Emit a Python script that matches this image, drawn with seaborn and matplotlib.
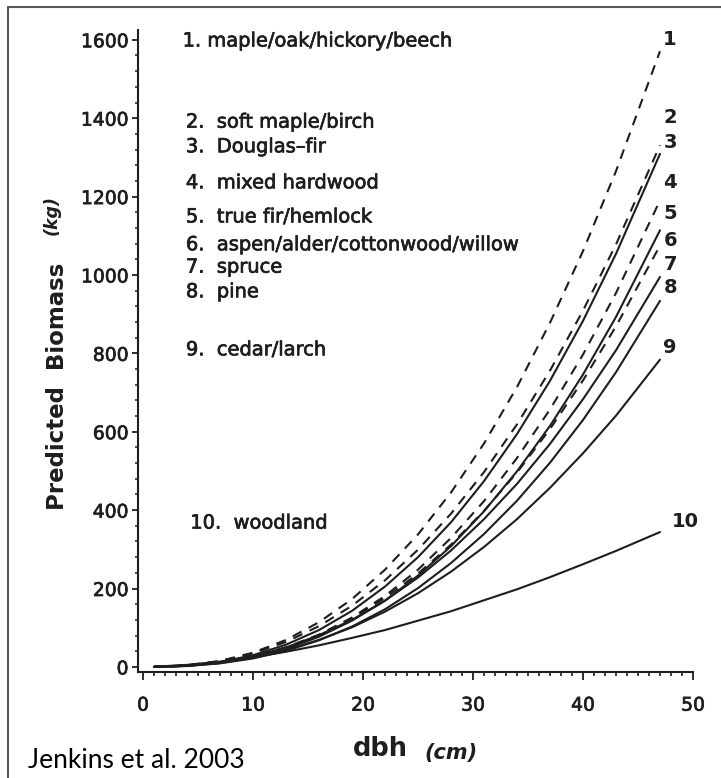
import pandas as pd
import matplotlib
matplotlib.use("Agg")
import matplotlib.pyplot as plt
import matplotlib.patheffects as pe
import seaborn as sns
from matplotlib.ticker import MultipleLocator
from matplotlib.lines import Line2D

# -------------------------------
# DATA
# -------------------------------
dbh = [1, 4, 7, 10, 13, 16, 19, 22, 25, 28, 31, 34, 37, 40, 43, 47]

maple_oak = [0.1, 3.9, 15.2, 36.3, 68.8, 114, 173, 248, 338, 445, 570, 714, 878, 1061, 1265, 1571]
soft_maple = [0.1, 3.9, 14.7, 34.3, 63.7, 104, 156, 221, 299, 391, 497, 619, 756, 909, 1078, 1331]
douglas_fir = [0.1, 3.2, 12.5, 29.8, 56.7, 94, 143, 205, 280, 369, 474, 594, 730, 883, 1054, 1309]
mixed_hw = [0.1, 2.6, 10.5, 25.5, 48.9, 82, 126, 181, 248, 329, 423, 533, 657, 797, 954, 1190]
true_fir = [0.1, 2.5, 9.9, 23.9, 45.9, 77, 118, 169, 233, 308, 397, 499, 615, 746, 893, 1114]
aspen = [0.1, 3.0, 11.4, 26.7, 50.0, 82, 124, 176, 238, 312, 398, 496, 607, 731, 869, 1075]
spruce = [0.1, 3.2, 11.7, 26.9, 49.6, 81, 120, 169, 228, 297, 377, 467, 569, 683, 808, 995]
pine = [0.1, 2.3, 9.0, 21.6, 40.8, 68, 103, 147, 201, 265, 339, 424, 521, 630, 752, 934]
cedar = [0.1, 3.0, 10.6, 23.8, 43.0, 69, 101, 141, 188, 243, 306, 377, 457, 545, 641, 784]
woodland = [0.5, 5.2, 13.4, 24.7, 38.6, 55, 74, 94, 118, 142, 170, 198, 229, 262, 296, 344]

series = [maple_oak, soft_maple, douglas_fir, mixed_hw, true_fir,
          aspen, spruce, pine, cedar, woodland]

group_labels = ["1. maple/oak/hickory/beech", "2.  soft maple/birch",
                "3.  Douglas\u2013fir", "4.  mixed hardwood",
                "5.  true fir/hemlock", "6.  aspen/alder/cottonwood/willow",
                "7.  spruce", "8.  pine", "9.  cedar/larch", "10.  woodland"]
end_numbers = ["1", "2", "3", "4", "5", "6", "7", "8", "9", "10"]
hardwood = [True, True, False, True, False, True, False, False, False, False]

# label positions (y in kg)
label_y = [1597, 1390, 1327, 1235, 1148, 1077, 1020, 957, 809, 367]
number_y = [1600, 1401, 1339, 1237, 1158, 1089, 1026, 967, 814, 372]

# -------------------------------
# PLOT
# -------------------------------
sns.set_style("ticks")
plt.rcParams['font.family'] = ['DejaVu Sans']

INK = "#1e1e1e"
heavy = [pe.withStroke(linewidth=0.5, foreground=INK)]

W, H = 721, 778
fig = plt.figure(figsize=(W / 100, H / 100), dpi=100)

ax = fig.add_axes([137.5 / W, 1 - 672 / H, (693 - 137.5) / W, (672 - 30) / H])
ax.set_facecolor("none")

rows = []
for name, vals in zip(end_numbers, series):
    for d, v in zip(dbh, vals):
        rows.append({"dbh": d, "biomass": v, "group": name})
df = pd.DataFrame(rows)

dash_map = {n: ((4.8, 3.8) if hw else "") for n, hw in zip(end_numbers, hardwood)}

sns.lineplot(data=df, x="dbh", y="biomass", style="group", dashes=dash_map,
             color=INK, linewidth=1.5, estimator=None, sort=False,
             legend=False, ax=ax)

ax.set_xlim(-0.5, 50)
ax.set_ylim(-13, 1625)
ax.xaxis.set_major_locator(MultipleLocator(10))
ax.xaxis.set_minor_locator(MultipleLocator(1))
ax.yaxis.set_major_locator(MultipleLocator(200))
ax.yaxis.set_minor_locator(MultipleLocator(40))
sns.despine(ax=ax)
for s in ["left", "bottom"]:
    ax.spines[s].set_linewidth(1.5)
    ax.spines[s].set_color(INK)

ax.tick_params(axis="x", which="major", length=6, width=1.3, pad=11,
               labelsize=13.5, color=INK, labelcolor=INK)
ax.tick_params(axis="x", which="minor", length=3, width=1.2, color=INK)
ax.tick_params(axis="y", which="major", length=4.5, width=1.3, pad=2,
               labelsize=13.5, color=INK, labelcolor=INK)
ax.tick_params(axis="y", which="minor", length=2.2, width=1.1, color=INK)
ax.set_xlabel("")
ax.set_ylabel("")
for lab in ax.get_xticklabels() + ax.get_yticklabels():
    lab.set_path_effects(heavy)

# group names on the left
for i, (txt, yv) in enumerate(zip(group_labels, label_y)):
    xv = 3.6 if i == 0 else (4.3 if i == 9 else 3.9)
    ax.text(xv, yv, txt, fontsize=14, va="center", ha="left", color=INK,
            path_effects=heavy)

# curve numbers on the right
for i, (txt, yv) in enumerate(zip(end_numbers, number_y)):
    xv = 48.1 if i == 9 else 47.3
    ax.text(xv, yv, txt, fontsize=14, weight="bold", va="center", ha="left",
            color=INK)

# axis titles
fig.text(57 / W, 1 - 386 / H, "Predicted  Biomass", rotation=90, fontsize=16.5,
         weight="bold", ha="center", va="center", color=INK)
fig.text(52 / W, 1 - 215 / H, "(kg)", rotation=90, fontsize=12.5, style="italic",
         weight="bold", ha="center", va="center", color=INK)
fig.text(380 / W, 1 - 749 / H, "dbh", fontsize=18.5, weight="bold",
         ha="center", va="center", color=INK)
fig.text(451 / W, 1 - 753 / H, "(cm)", fontsize=15, style="italic",
         weight="bold", ha="center", va="center", color=INK)

fig.text(28 / W, 1 - 768 / H, "Jenkins et al. 2003", fontsize=19,
         family="Lato", ha="left", va="baseline", color="black")

# outer frame (left and top edges visible)
fig.add_artist(Line2D([8 / W, 8 / W], [0, 1 - 7 / H], transform=fig.transFigure,
                      color="#5a5a5a", lw=1.5))
fig.add_artist(Line2D([8 / W, 1], [1 - 7 / H, 1 - 7 / H], transform=fig.transFigure,
                      color="#5a5a5a", lw=1.5))

fig.savefig("out.png", dpi=100)
